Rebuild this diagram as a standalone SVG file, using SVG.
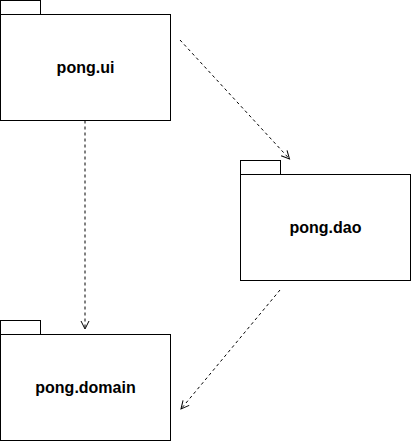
<svg xmlns="http://www.w3.org/2000/svg" width="411" height="441" viewBox="0 0 411 441">
<defs>
<style>
.pk{fill:#fff;stroke:#000;stroke-width:1}
.lb{font-family:"Liberation Sans",Arial,sans-serif;font-weight:bold;font-size:16px;text-anchor:middle;fill:#000}
.dep{fill:none;stroke:#000;stroke-width:1;stroke-dasharray:3 3}
</style>
<marker id="open" markerWidth="12" markerHeight="12" refX="9" refY="5" orient="auto" markerUnits="userSpaceOnUse" viewBox="0 0 12 10">
<path d="M1,1 L9,5 L1,9" fill="none" stroke="#000" stroke-width="1"/>
</marker>
</defs>
<rect width="411" height="441" fill="#fff"/>
<g id="connectors">
<path class="dep" d="M180,40 L289.5,159" marker-end="url(#open)"/>
<path class="dep" d="M85,120.5 L85,329" marker-end="url(#open)"/>
<path class="dep" d="M280,290 L181,409" marker-end="url(#open)"/>
</g>
<g id="pong.ui">
<rect class="pk" x="0.5" y="0.5" width="40" height="14"/>
<rect class="pk" x="0.5" y="14.5" width="170" height="106"/>
<text class="lb" x="85.5" y="73">pong.ui</text>
</g>
<g id="pong.dao">
<rect class="pk" x="240.5" y="160.5" width="40" height="14"/>
<rect class="pk" x="240.5" y="174.5" width="170" height="106"/>
<text class="lb" x="325.5" y="233">pong.dao</text>
</g>
<g id="pong.domain">
<rect class="pk" x="0.5" y="320.5" width="40" height="14"/>
<rect class="pk" x="0.5" y="334.5" width="170" height="106"/>
<text class="lb" x="85.5" y="393">pong.domain</text>
</g>
</svg>
